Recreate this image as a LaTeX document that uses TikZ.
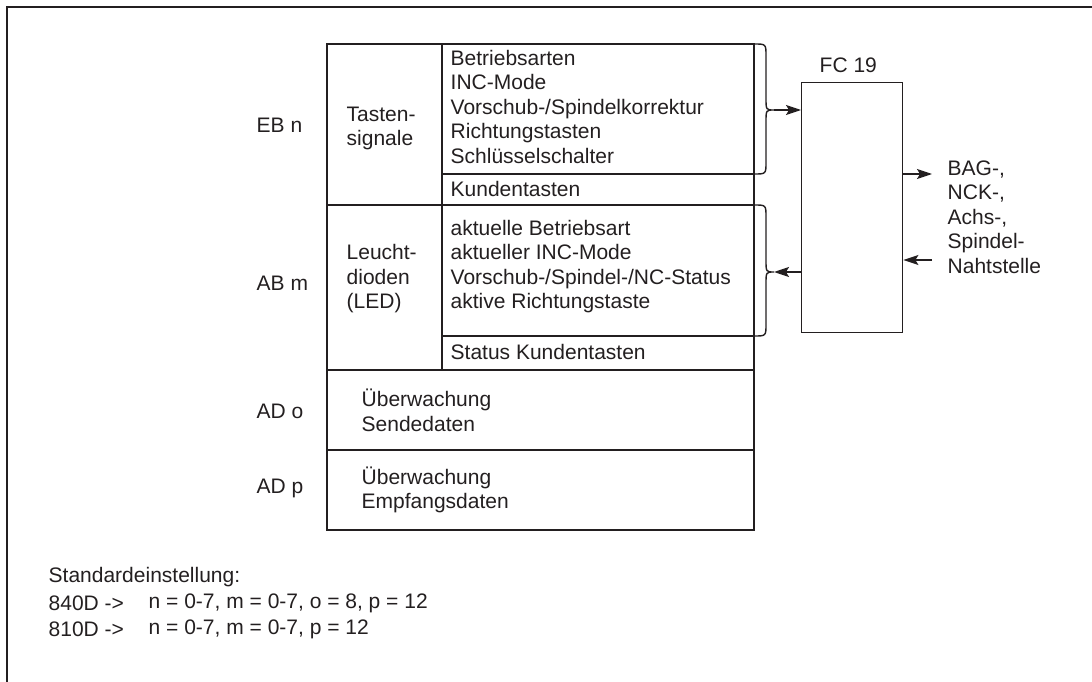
\documentclass[tikz,border=0pt]{standalone}
\usepackage{fontspec}
\setmainfont{Liberation Sans}
\usetikzlibrary{arrows.meta, positioning}

\definecolor{ink}{HTML}{231F20}

\begin{document}
\begin{tikzpicture}[x=1pt, y=-1pt, line width=1.4pt, draw=ink, text=ink,
  >={Stealth[length=15pt, width=10pt, inset=3pt]},
  txt/.style={inner sep=0pt, anchor=west, align=left, font=\fontsize{21}{24.5}\selectfont}]

\clip (0,0) rectangle (1092,682);

% outer frame
\draw (7,7) rectangle (1120,720);

% main table
\draw (327,44) rectangle (754,530);
\draw (442,44) -- (442,370);
\draw (327,205) -- (754,205);
\draw (327,370) -- (754,370);
\draw (327,450) -- (754,450);
\draw (442,174) -- (754,174);
\draw (442,336) -- (754,336);

% braces
\draw (754,44) .. controls (766,44) .. (766,56) -- (766,98) .. controls (766,110) .. (774,110)
  .. controls (766,110) .. (766,122) -- (766,162) .. controls (766,174) .. (754,174);
\draw (754,205) .. controls (766,205) .. (766,217) -- (766,260) .. controls (766,272) .. (774,272)
  .. controls (766,272) .. (766,284) -- (766,324) .. controls (766,336) .. (754,336);

\coordinate (tipa) at (774,110);
\coordinate (tipb) at (774,272);

% FC block
\node[draw, minimum width=101pt, minimum height=250pt, inner sep=0pt, anchor=north west] (fc) at (801,82) {};
\node[txt] (fclabel) at (819,65) {FC 19};

\draw [->] (tipa) -- (tipa -| fc.west);
\draw [->] (tipb -| fc.west) -- (tipb);

\coordinate (outa) at (932,174);
\coordinate (ina) at (932,260);
\draw [->] (outa -| fc.east) -- (outa);
\draw [->] (ina) -- (ina -| fc.east);

\node[txt] (nst) at (947,217) {BAG-,\\NCK-,\\Achs-,\\Spindel-\\Nahtstelle};

% row labels
\node[txt] (ebn) at (256,125) {EB n};
\node[txt] (abm) at (256,283) {AB m};
\node[txt] (ado) at (256,411) {AD o};
\node[txt] (adp) at (256,488) {AD p};

% cell texts
\node[txt] (tasten) at (346,128.5) {Tasten-\\signale};
\node[txt] (led) at (346,279) {Leucht-\\dioden\\(LED)};
\node[txt] (betrieb) at (450,106.5) {Betriebsarten\\INC-Mode\\Vorschub-/Spindelkorrektur\\Richtungstasten\\Schlüsselschalter};
\node[txt] (kunden) at (450,189) {Kundentasten};
\node[txt] (aktuell) at (450,266.5) {aktuelle Betriebsart\\aktueller INC-Mode\\Vorschub-/Spindel-/NC-Status\\aktive Richtungstaste};
\node[txt] (status) at (450,352) {Status Kundentasten};
\node[txt] (sende) at (361,410.5) {Überwachung\\Sendedaten};
\node[txt] (empfang) at (361,490) {Überwachung\\Empfangsdaten};

% defaults
\node[txt] (std) at (48,577) {Standardeinstellung:};
\node[txt] (za) at (48,603) {840D ->};
\node[txt] (wa) at (148,603) {n = 0-7, m = 0-7, o = 8, p = 12};
\node[txt] (zb) at (48,629) {810D ->};
\node[txt] (wb) at (148,629) {n = 0-7, m = 0-7, p = 12};

\end{tikzpicture}
\end{document}
